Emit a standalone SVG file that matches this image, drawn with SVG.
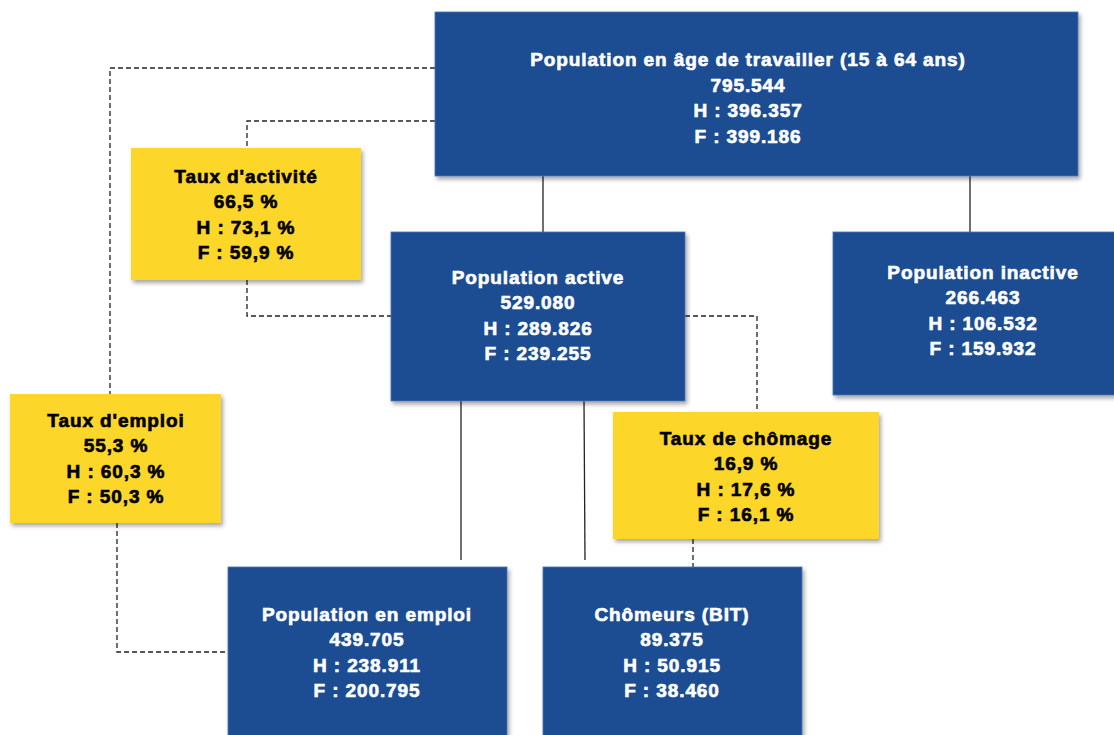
<svg xmlns="http://www.w3.org/2000/svg" width="1114" height="735" viewBox="0 0 1114 735">
<defs>
<filter id="sh" x="-10%" y="-10%" width="130%" height="130%">
<feDropShadow dx="2" dy="3" stdDeviation="2" flood-color="#000" flood-opacity="0.35"/>
</filter>
<style>
.blue{fill:#1F4E93;stroke:#4A72B0;stroke-width:0.8;filter:url(#sh)}
.yel{fill:#FDD62B;filter:url(#sh)}
text{font-family:"Liberation Sans",Arial,sans-serif;font-weight:bold;font-size:19px;text-anchor:middle;letter-spacing:0.9px}
.w{fill:#fff;stroke:#fff;stroke-width:0.65}
.k{fill:#000;stroke:#000;stroke-width:0.65}
.solid{fill:none;stroke:#222;stroke-width:1.3}
.dash{fill:none;stroke:#222;stroke-width:1.3;stroke-dasharray:5,3}
</style>
</defs>
<rect width="1114" height="735" fill="#fff"/>
<g id="connectors">
<line class="solid" x1="543" y1="176" x2="543" y2="232"/>
<line class="solid" x1="970" y1="176" x2="970" y2="232"/>
<line class="solid" x1="461" y1="401" x2="461" y2="560"/>
<line class="solid" x1="584" y1="401" x2="585" y2="560"/>
<polyline class="dash" points="435,68 110,68 110,394"/>
<polyline class="dash" points="435,121 247,121 247,148"/>
<polyline class="dash" points="247,280 247,316 391,316"/>
<polyline class="dash" points="685,316 757,316 757,412"/>
<line class="dash" x1="693" y1="539" x2="693" y2="567"/>
<polyline class="dash" points="117,523 117,652 228,652"/>
</g>
<g id="pop-age">
<rect class="blue" x="435" y="12" width="643" height="164"/>
<text class="w" x="748" y="66">Population en âge de travailler (15 à 64 ans)</text>
<text class="w" x="748" y="91.5">795.544</text>
<text class="w" x="748" y="117">H : 396.357</text>
<text class="w" x="748" y="142.5">F : 399.186</text>
</g>
<g id="taux-activite">
<rect class="yel" x="131" y="148" width="230" height="132"/>
<text class="k" x="246" y="182.5">Taux d'activité</text>
<text class="k" x="246" y="208">66,5 %</text>
<text class="k" x="246" y="233.5">H : 73,1 %</text>
<text class="k" x="246" y="259">F : 59,9 %</text>
</g>
<g id="pop-active">
<rect class="blue" x="391" y="232" width="294" height="169"/>
<text class="w" x="538" y="283.5">Population active</text>
<text class="w" x="538" y="309">529.080</text>
<text class="w" x="538" y="334.5">H : 289.826</text>
<text class="w" x="538" y="360">F : 239.255</text>
</g>
<g id="pop-inactive">
<rect class="blue" x="833" y="232" width="300" height="163"/>
<text class="w" x="983" y="278.5">Population inactive</text>
<text class="w" x="983" y="304">266.463</text>
<text class="w" x="983" y="329.5">H : 106.532</text>
<text class="w" x="983" y="355">F : 159.932</text>
</g>
<g id="taux-emploi">
<rect class="yel" x="10" y="394" width="211" height="129"/>
<text class="k" x="116" y="426.5">Taux d'emploi</text>
<text class="k" x="116" y="452">55,3 %</text>
<text class="k" x="116" y="477.5">H : 60,3 %</text>
<text class="k" x="116" y="503">F : 50,3 %</text>
</g>
<g id="taux-chomage">
<rect class="yel" x="613" y="412" width="266" height="127"/>
<text class="k" x="746" y="444.5">Taux de chômage</text>
<text class="k" x="746" y="470">16,9 %</text>
<text class="k" x="746" y="495.5">H : 17,6 %</text>
<text class="k" x="746" y="521">F : 16,1 %</text>
</g>
<g id="pop-emploi">
<rect class="blue" x="228" y="567" width="279" height="180"/>
<text class="w" x="367" y="620.5">Population en emploi</text>
<text class="w" x="367" y="646">439.705</text>
<text class="w" x="367" y="671.5">H : 238.911</text>
<text class="w" x="367" y="697">F : 200.795</text>
</g>
<g id="chomeurs">
<rect class="blue" x="543" y="567" width="259" height="180"/>
<text class="w" x="672" y="620.5">Chômeurs (BIT)</text>
<text class="w" x="672" y="646">89.375</text>
<text class="w" x="672" y="671.5">H : 50.915</text>
<text class="w" x="672" y="697">F : 38.460</text>
</g>
</svg>
